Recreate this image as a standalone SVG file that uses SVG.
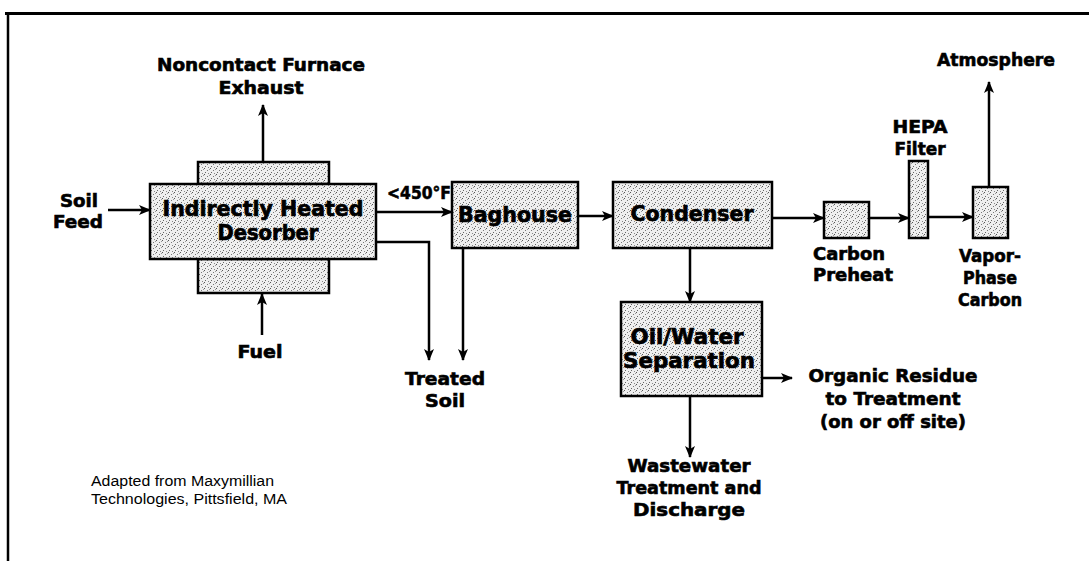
<svg xmlns="http://www.w3.org/2000/svg" width="1089" height="561" viewBox="0 0 1089 561">
<style>
.box{fill:url(#stip);stroke:#000;stroke-width:2.5}
.ln{fill:none;stroke:#000;stroke-width:2.5}
.arr{marker-end:url(#ah)}
.lb{font-family:"DejaVu Sans",Lato,sans-serif;font-weight:bold;font-size:17px;fill:#000;stroke:#000;stroke-width:0.6;text-anchor:middle}
.bt{font-family:"DejaVu Sans",Lato,sans-serif;font-weight:bold;font-size:21px;fill:#000;stroke:#000;stroke-width:0.7;text-anchor:middle}
.note{font-family:"Liberation Sans",Arial,sans-serif;font-size:14px;fill:#000}
</style>
<defs>
<pattern id="stip" width="6" height="6" patternUnits="userSpaceOnUse">
<rect width="6" height="6" fill="#efefef"/>
<rect x="0" y="0" width="1" height="1" fill="#555"/>
<rect x="3" y="2" width="1" height="1" fill="#777"/>
<rect x="1" y="4" width="1" height="1" fill="#666"/>
<rect x="4" y="5" width="1" height="1" fill="#888"/>
<rect x="5" y="1" width="1" height="1" fill="#999"/>
</pattern>
<marker id="ah" viewBox="0 0 12 10" refX="11" refY="5" markerWidth="12" markerHeight="10" markerUnits="userSpaceOnUse" orient="auto">
<path d="M0,0 L12,5 L0,10 L3,5 z" fill="#000"/>
</marker>
</defs>
<rect width="1089" height="561" fill="#fff"/>
<g id="frame">
<path d="M5,13.5 H1089" stroke="#000" stroke-width="3" fill="none"/>
<path d="M8,12 V561" stroke="#000" stroke-width="2.5" fill="none"/>
</g>
<g id="connectors">
<path class="ln arr" d="M108,210 H150"/>
<path class="ln arr" d="M263,162 V105"/>
<path class="ln arr" d="M262,335 V294"/>
<path class="ln arr" d="M376,212 H452"/>
<path class="ln arr" d="M376,242 H429 V360"/>
<path class="ln arr" d="M463,248 V360"/>
<path class="ln arr" d="M578,216 H613"/>
<path class="ln arr" d="M772,218 H824"/>
<path class="ln arr" d="M869,218 H909"/>
<path class="ln arr" d="M928,217 H973"/>
<path class="ln arr" d="M989,187 V82"/>
<path class="ln arr" d="M690,248 V302"/>
<path class="ln arr" d="M762,378 H792"/>
<path class="ln arr" d="M690,396 V457"/>
</g>
<g id="desorber">
<rect class="box" x="198" y="162" width="131" height="22"/>
<rect class="box" x="198" y="259" width="131" height="34"/>
<rect class="box" x="150" y="184" width="226" height="75"/>
<text class="bt" x="263" y="216" textLength="201" lengthAdjust="spacingAndGlyphs">Indirectly Heated</text>
<text class="bt" x="268" y="240" textLength="101" lengthAdjust="spacingAndGlyphs">Desorber</text>
</g>
<g id="baghouse">
<rect class="box" x="452" y="182" width="126" height="66"/>
<text class="bt" x="515" y="222" textLength="114" lengthAdjust="spacingAndGlyphs">Baghouse</text>
</g>
<g id="condenser">
<rect class="box" x="613" y="182" width="159" height="66"/>
<text class="bt" x="692" y="221" textLength="123" lengthAdjust="spacingAndGlyphs">Condenser</text>
</g>
<g id="oilwater">
<rect class="box" x="621" y="302" width="141" height="94"/>
<text class="bt" x="687" y="344" textLength="113" lengthAdjust="spacingAndGlyphs">Oil/Water</text>
<text class="bt" x="689" y="368" textLength="132" lengthAdjust="spacingAndGlyphs">Separation</text>
</g>
<g id="carbonpreheat">
<rect class="box" x="824" y="202" width="45" height="36"/>
<text class="lb" x="849" y="260" textLength="72" lengthAdjust="spacingAndGlyphs">Carbon</text>
<text class="lb" x="853" y="281" textLength="80" lengthAdjust="spacingAndGlyphs">Preheat</text>
</g>
<g id="hepa">
<rect class="box" x="909" y="161" width="19" height="77"/>
<text class="lb" x="920" y="133" textLength="55" lengthAdjust="spacingAndGlyphs">HEPA</text>
<text class="lb" x="920" y="155" textLength="51" lengthAdjust="spacingAndGlyphs">Filter</text>
</g>
<g id="vaporcarbon">
<rect class="box" x="973" y="187" width="35" height="51"/>
<text class="lb" x="990" y="262" textLength="62" lengthAdjust="spacingAndGlyphs">Vapor-</text>
<text class="lb" x="990" y="284" textLength="54" lengthAdjust="spacingAndGlyphs">Phase</text>
<text class="lb" x="990" y="306" textLength="64" lengthAdjust="spacingAndGlyphs">Carbon</text>
</g>
<g id="exhaust">
<text class="lb" x="261" y="71" textLength="208" lengthAdjust="spacingAndGlyphs">Noncontact Furnace</text>
<text class="lb" x="261" y="94" textLength="85" lengthAdjust="spacingAndGlyphs">Exhaust</text>
</g>
<g id="soilfeed">
<text class="lb" x="79" y="207" textLength="38" lengthAdjust="spacingAndGlyphs">Soil</text>
<text class="lb" x="78" y="228" textLength="50" lengthAdjust="spacingAndGlyphs">Feed</text>
</g>
<g id="temp">
<text class="lb" x="419" y="199" textLength="64" lengthAdjust="spacingAndGlyphs">&lt;450°F</text>
</g>
<g id="fuel">
<text class="lb" x="260" y="358" textLength="45" lengthAdjust="spacingAndGlyphs">Fuel</text>
</g>
<g id="treatedsoil">
<text class="lb" x="445" y="385" textLength="80" lengthAdjust="spacingAndGlyphs">Treated</text>
<text class="lb" x="445" y="407" textLength="40" lengthAdjust="spacingAndGlyphs">Soil</text>
</g>
<g id="atmosphere">
<text class="lb" x="996" y="66" textLength="118" lengthAdjust="spacingAndGlyphs">Atmosphere</text>
</g>
<g id="organic">
<text class="lb" x="893" y="382" textLength="169" lengthAdjust="spacingAndGlyphs">Organic Residue</text>
<text class="lb" x="893" y="405" textLength="135" lengthAdjust="spacingAndGlyphs">to Treatment</text>
<text class="lb" x="893" y="428" textLength="146" lengthAdjust="spacingAndGlyphs">(on or off site)</text>
</g>
<g id="wastewater">
<text class="lb" x="689" y="472" textLength="123" lengthAdjust="spacingAndGlyphs">Wastewater</text>
<text class="lb" x="689" y="494" textLength="145" lengthAdjust="spacingAndGlyphs">Treatment and</text>
<text class="lb" x="689" y="516" textLength="112" lengthAdjust="spacingAndGlyphs">Discharge</text>
</g>
<g id="credit">
<text class="note" x="91" y="486" textLength="183" lengthAdjust="spacingAndGlyphs">Adapted from Maxymillian</text>
<text class="note" x="91" y="504" textLength="196" lengthAdjust="spacingAndGlyphs">Technologies, Pittsfield, MA</text>
</g>
</svg>
